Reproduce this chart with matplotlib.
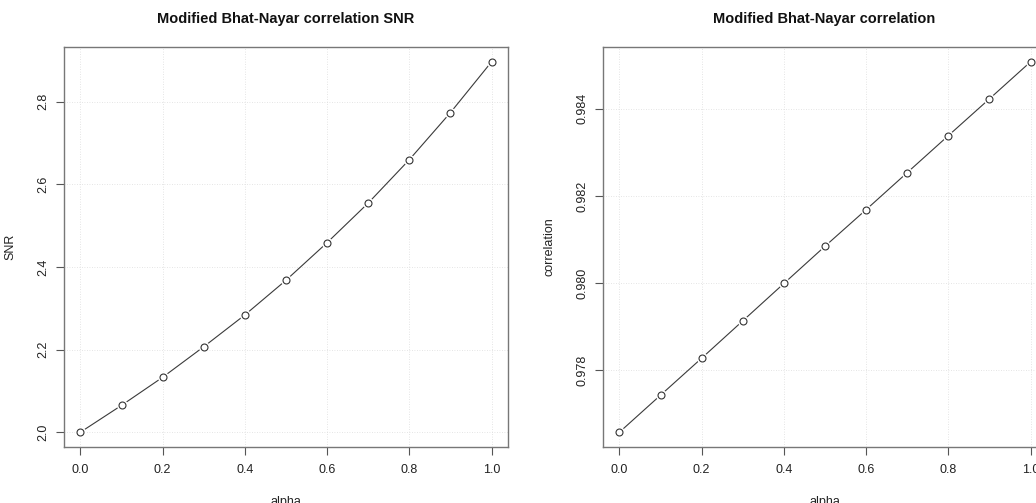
import matplotlib
matplotlib.use("Agg")
import matplotlib.pyplot as plt

plt.rcParams['font.family'] = ['Liberation Sans', 'DejaVu Sans']

# data
alpha = [0.0, 0.1, 0.2, 0.3, 0.4, 0.5, 0.6, 0.7, 0.8, 0.9, 1.0]
snr = [2.000, 2.065, 2.133, 2.207, 2.284, 2.368, 2.459, 2.555, 2.660, 2.774, 2.897]
corr = [0.976585, 0.977434, 0.978282, 0.979138, 0.979995, 0.980849,
        0.981688, 0.982537, 0.983385, 0.984229, 0.985078]

x_ticks = [0.0, 0.2, 0.4, 0.6, 0.8, 1.0]
snr_ticks = [2.0, 2.2, 2.4, 2.6, 2.8]
corr_ticks = [0.978, 0.980, 0.982, 0.984]

W, H = 1036, 503
fig = plt.figure(figsize=(W / 100, H / 100), dpi=100)

# axes boxes in pixels (left, bottom-from-top, width, height)
ax1 = fig.add_axes([64 / W, (H - 447) / H, 444 / W, 400 / H])
ax2 = fig.add_axes([603 / W, (H - 447) / H, 444 / W, 400 / H])


def r_style(ax, x, y, yticks, ylabel, title, fmt):
    # grid like R's grid()
    for t in x_ticks:
        ax.axvline(t, color='#dcdcdc', lw=0.6, ls=(0, (1, 2)), zorder=0)
    for t in yticks:
        ax.axhline(t, color='#dcdcdc', lw=0.6, ls=(0, (1, 2)), zorder=0)

    # type="b": line with gaps around the points
    ax.plot(x, y, color='#3a3a3a', lw=0.8, zorder=2)
    ax.plot(x, y, ls='none', marker='o', ms=8, mfc='white', mec='white',
            mew=0, zorder=3)
    ax.plot(x, y, ls='none', marker='o', ms=5.0, mfc='none', mec='#333333',
            mew=0.8, zorder=4)

    pad = 0.04 * (max(y) - min(y))
    ax.set_ylim(min(y) - pad, max(y) + pad)
    ax.set_xlim(-0.04, 1.04)

    ax.set_xticks(x_ticks)
    ax.set_xticklabels(['%.1f' % t for t in x_ticks])
    ax.set_yticks(yticks)
    ax.set_yticklabels([fmt % t for t in yticks], rotation=90, va='center')
    ax.tick_params(direction='out', length=5.8, width=0.8, color='#555555',
                   labelsize=9, labelcolor='#222222')
    ax.tick_params(axis='x', pad=6.5)
    ax.tick_params(axis='y', pad=5)

    for s in ax.spines.values():
        s.set_color('#777777')
        s.set_linewidth(1.0)

    ax.set_xlabel('alpha', fontsize=9, color='#222222')
    ax.xaxis.set_label_coords(0.5, -0.1225)
    ax.set_ylabel(ylabel, fontsize=9, color='#222222')
    ax.set_title(title, fontsize=10.5, fontweight='bold', color='#111111',
                 y=1.07, va='center', pad=0)


r_style(ax1, alpha, snr, snr_ticks, 'SNR',
        'Modified Bhat-Nayar correlation SNR', '%.1f')
ax1.yaxis.set_label_coords(-0.108, 0.5)

r_style(ax2, alpha, corr, corr_ticks, 'correlation',
        'Modified Bhat-Nayar correlation', '%.3f')
ax2.yaxis.set_label_coords(-0.106, 0.5)
# right panel is cut at the image edge, title centred on the full box
ax2.title.set_position((0.499, 1.07))

fig.savefig('out.png', dpi=100)
